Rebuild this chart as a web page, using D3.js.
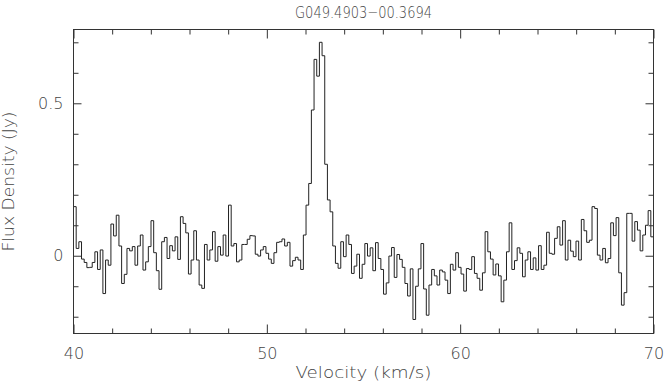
<!DOCTYPE html>
<html>
<head>
<meta charset="utf-8">
<script src="https://cdn.jsdelivr.net/npm/d3@7"></script>
<style>
  body { margin: 0; background: #fff; }
  svg text { font-family: "DejaVu Sans", "Liberation Sans", sans-serif; font-weight: 300; fill: #444; }
</style>
</head>
<body>
<svg id="chart" width="664" height="382"></svg>
<script>
// spectrum: first channel velocity and channel width (km/s)
var velStart = 40;
var chanWidth = 30 / 217;
// flux density per channel (Jy)
var flux = [
  0.161, 0.024, 0.046, -0.011, -0.022, -0.039, -0.038, -0.022, 0.013, -0.045,
  0.019, -0.124, -0.014, -0.031, 0.104, 0.065, 0.133, 0.032, -0.091, -0.061,
  0.024, 0.016, 0.030, -0.031, 0.032, 0.068, -0.047, -0.020, 0.030, 0.115,
  0.010, -0.049, -0.110, 0.046, 0.060, -0.009, 0.033, 0.016, 0.062, -0.012,
  0.128, 0.106, 0.075, -0.060, -0.014, 0.082, -0.014, -0.096, -0.107,
  0.037, -0.014, 0.019, 0.079, -0.018, 0.030, 0.002, 0.068, -0.001, 0.166,
  0.032, 0.040, -0.020, -0.014, 0.037, 0.037, 0.054, 0.066, 0.065, 0.005,
  -0.001, 0.019, 0.030, 0.008, -0.011, -0.025, 0.010, 0.044, 0.046, 0.055,
  0.032, 0.044, -0.034, -0.016, -0.005, -0.014, -0.045, 0.068, 0.166, 0.237,
  0.478, 0.644, 0.589, 0.700, 0.656, 0.300, 0.183, 0.144, 0.032, -0.025, -0.041,
  0.046, -0.003, 0.068, 0.037, -0.058, -0.034, 0.005, -0.074, -0.028, 0.040,
  -0.001, 0.026, -0.049, 0.043, -0.009, -0.045, -0.126, -0.089, -0.001, 0.027,
  -0.071, 0.004, -0.012, -0.038, -0.091, -0.132, -0.043, -0.209, -0.100, -0.043,
  0.040, -0.109, -0.195, -0.096, -0.045, -0.066, -0.096, -0.047, -0.053, -0.080,
  -0.124, -0.028, -0.047, 0.010, -0.038, -0.060, -0.116, -0.042, -0.045, -0.003,
  -0.058, -0.074, -0.113, -0.056, 0.079, 0.013, -0.011, -0.063, -0.027, -0.066,
  -0.151, -0.080, 0.013, 0.108, -0.045, -0.016, 0.026, 0.008, -0.069, -0.014,
  0.013, -0.045, -0.007, -0.047, 0.033, -0.045, -0.031, 0.077, 0.008, 0.005,
  0.057, 0.095, 0.035, 0.115, -0.014, 0.051, 0.015, -0.003, 0.048, -0.014,
  0.119, 0.082, 0.044, 0.051, 0.161, 0.155, 0.002, -0.014, 0.024, -0.023,
  -0.009, 0.108, 0.066, 0.125, -0.056, -0.162, -0.121, 0.139, 0.139, 0.048,
  0.112, 0.084, 0.016, 0.068, 0.100, 0.148, 0.062
];
var xMajor = [40, 50, 60, 70];
var xMinor = [42, 44, 46, 48, 52, 54, 56, 58, 62, 64, 66, 68];
var yMajor = [0, 0.5];
var yMinor = [-0.2, -0.1, 0.1, 0.2, 0.3, 0.4, 0.6, 0.7];
var title = "G049.4903\u221200.3694";

var plotL = 73.5, plotR = 653.5, plotT = 29.5, plotB = 333.5;
var svg = d3.select("#chart");

var x = d3.scaleLinear().domain([40, 70]).range([plotL, plotR]);
var y = d3.scaleLinear().domain([-0.255, 0.742]).range([plotB, plotT]);

// step trace, one flat segment per channel
var pts = flux.map(function(f, i) { return [velStart + i * chanWidth, f]; });
pts.push([velStart + flux.length * chanWidth, flux[flux.length - 1]]);
var line = d3.line()
  .x(function(d) { return x(d[0]); })
  .y(function(d) { return y(d[1]); })
  .curve(d3.curveStepAfter);

svg.append("path")
  .datum(pts)
  .attr("d", line)
  .attr("fill", "none")
  .attr("stroke", "#222")
  .attr("stroke-width", 1);

// axes with ticks pointing inward on all sides
function tidy(g) {
  g.select(".domain").remove();
  g.selectAll("line").attr("stroke", "#333");
}
svg.append("g").attr("transform", "translate(0," + plotB + ")")
  .call(d3.axisBottom(x).tickValues(xMajor).tickSize(-9).tickPadding(14).tickFormat(d3.format("d")))
  .call(tidy)
  .selectAll("text").attr("font-size", 16).attr("dy", "0.71em");
svg.append("g").attr("transform", "translate(0," + plotB + ")")
  .call(d3.axisBottom(x).tickValues(xMinor).tickSize(-5).tickFormat(""))
  .call(tidy);
svg.append("g").attr("transform", "translate(0," + plotT + ")")
  .call(d3.axisTop(x).tickValues(xMajor).tickSize(-9).tickFormat(""))
  .call(tidy);
svg.append("g").attr("transform", "translate(0," + plotT + ")")
  .call(d3.axisTop(x).tickValues(xMinor).tickSize(-5).tickFormat(""))
  .call(tidy);

svg.append("g").attr("transform", "translate(" + plotL + ",0)")
  .call(d3.axisLeft(y).tickValues(yMajor).tickSize(-8).tickPadding(10).tickFormat(function(d) { return d === 0 ? "0" : d3.format(".1f")(d); }))
  .call(tidy)
  .selectAll("text").attr("font-size", 16);
svg.append("g").attr("transform", "translate(" + plotL + ",0)")
  .call(d3.axisLeft(y).tickValues(yMinor).tickSize(-5).tickFormat(""))
  .call(tidy);
svg.append("g").attr("transform", "translate(" + plotR + ",0)")
  .call(d3.axisRight(y).tickValues(yMajor).tickSize(-8).tickFormat(""))
  .call(tidy);
svg.append("g").attr("transform", "translate(" + plotR + ",0)")
  .call(d3.axisRight(y).tickValues(yMinor).tickSize(-5).tickFormat(""))
  .call(tidy);

svg.append("rect")
  .attr("x", plotL).attr("y", plotT)
  .attr("width", plotR - plotL).attr("height", plotB - plotT)
  .attr("fill", "none").attr("stroke", "#333").attr("stroke-width", 1);

// labels (PGPLOT font is narrower/wider than ours, so pin the widths)
svg.append("text")
  .attr("x", (plotL + plotR) / 2).attr("y", 18)
  .attr("text-anchor", "middle").attr("font-size", 16)
  .attr("textLength", 137).attr("lengthAdjust", "spacingAndGlyphs")
  .text(title);
svg.append("text")
  .attr("x", (plotL + plotR) / 2).attr("y", 378)
  .attr("text-anchor", "middle").attr("font-size", 16)
  .attr("textLength", 136).attr("lengthAdjust", "spacingAndGlyphs")
  .text("Velocity (km/s)");
svg.append("text")
  .attr("transform", "translate(14," + ((plotT + plotB) / 2) + ") rotate(-90)")
  .attr("text-anchor", "middle").attr("font-size", 16)
  .attr("textLength", 140).attr("lengthAdjust", "spacingAndGlyphs")
  .text("Flux Density (Jy)");
</script>
</body>
</html>
